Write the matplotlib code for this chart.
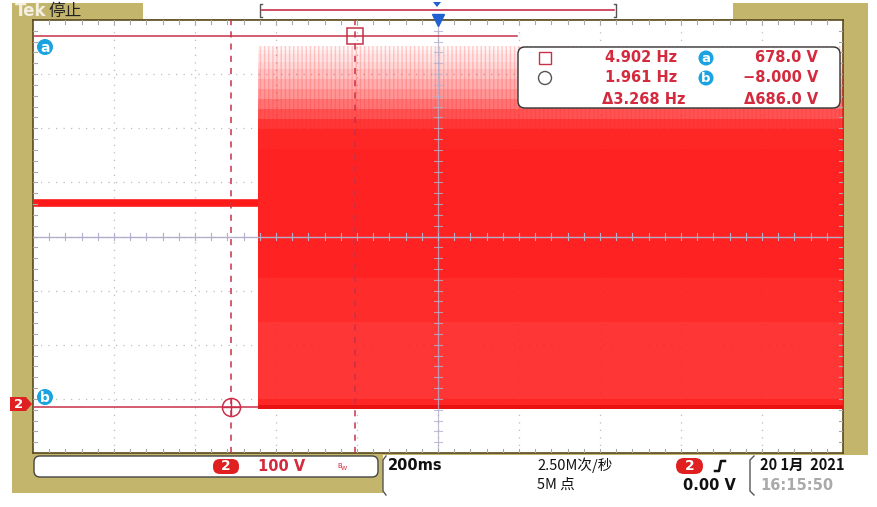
import numpy as np
import matplotlib
matplotlib.use("Agg")
import matplotlib.pyplot as plt
from matplotlib.patches import FancyBboxPatch, Rectangle, Polygon, Circle

plt.rcParams['font.family'] = ['Noto Sans CJK SC', 'DejaVu Sans']

# -----------------------
# Scope settings / readings
# -----------------------
time_per_div = 0.2          # s  (200ms)
volt_per_div = 100.0        # V
n_xdiv, n_ydiv = 10, 8
ground_v = -92.6            # bottom of screen in volts

# signal: flat DC level then dense switching waveform
t_start = -1.0
t_step = -0.444
t_end = 1.0
dc_level = 370.0
# intensity profile of the dense waveform (volts -> display intensity)
band_levels = [-11, -4, 8, 150, 230, 469, 506, 525, 543, 562, 580, 598, 617, 630, 644, 652, 660]
band_alpha = [1.0, 0.95, 0.88, 0.92, 0.97, 0.95, 0.88, 0.75, 0.6, 0.46, 0.35, 0.25, 0.17, 0.11, 0.07, 0.04]

# cursors
cursor_t = [-0.204, -0.510]
cursor_v = [678.0, -8.0]

OLIVE = "#C4B56C"
RED = "#FF1A1A"
CUR = "#C8304A"
TXT = "#D42A3E"
CYAN = "#1AA3E0"

W, H = 877, 507
fig = plt.figure(figsize=(W / 100, H / 100), dpi=100)

# background chrome in pixel coords
bg = fig.add_axes([0, 0, 1, 1])
bg.set_xlim(0, W)
bg.set_ylim(H, 0)
bg.axis("off")
bg.add_patch(Rectangle((12, 3), 856, 490, color=OLIVE, lw=0))
bg.add_patch(Rectangle((143, 0), 590, 19, color="white", lw=0))
bg.add_patch(Rectangle((383, 455), 485, 40, color="white", lw=0))

# top record view
bg.plot([262, 614], [10, 10], color=CUR, lw=1.2)
bg.plot([262, 260, 260, 262], [4, 4, 17, 17], color="#555555", lw=1)
bg.plot([614, 616, 616, 614], [4, 4, 17, 17], color="#555555", lw=1)
bg.add_patch(Polygon([[433, 2], [441, 2], [437, 7]], color="#2060D0", lw=0))
bg.text(15, 11, "Tek", color="#F4F0E0", fontsize=12, fontweight="bold", va="center", family="DejaVu Sans")
bg.text(48, 11, "停止", color="#222222", fontsize=12, va="center")

# -----------------------
# Graticule / waveform axes
# -----------------------
px0, py0, pw, ph = 33, 20, 810, 433
ax = fig.add_axes([px0 / W, 1 - (py0 + ph) / H, pw / W, ph / H])
x_lo = -n_xdiv / 2 * time_per_div
x_hi = n_xdiv / 2 * time_per_div
y_lo = ground_v
y_hi = ground_v + n_ydiv * volt_per_div
ax.set_xlim(x_lo, x_hi)
ax.set_ylim(y_lo, y_hi)
ax.set_facecolor("white")
ax.set_xticks([])
ax.set_yticks([])
for s in ax.spines.values():
    s.set_color("#5A4A20")
    s.set_linewidth(1.2)

grid_kw = dict(color="#BDBDBD", lw=0.9, ls=(0, (1, 5)), zorder=1)
for i in range(1, n_xdiv):
    ax.axvline(x_lo + i * time_per_div, **grid_kw)
for j in range(1, n_ydiv):
    ax.axhline(y_lo + j * volt_per_div, **grid_kw)

xc = 0.0
yc = y_lo + n_ydiv / 2 * volt_per_div
axis_col = "#B4B0CC"
ax.axhline(yc, color=axis_col, lw=1.0, zorder=4)
ax.axvline(xc, color=axis_col, lw=0.9, alpha=0.8, zorder=4)
dx_tick = 0.045 * time_per_div
dy_tick = 0.07 * volt_per_div
for k in range(1, n_xdiv * 5):
    xt = x_lo + k * time_per_div / 5
    ax.plot([xt, xt], [yc - dy_tick, yc + dy_tick], color=axis_col, lw=0.8, zorder=4)
    ax.plot([xt, xt], [y_lo, y_lo + dy_tick], color="#A8A8A8", lw=0.8, zorder=4)
    ax.plot([xt, xt], [y_hi - dy_tick, y_hi], color="#A8A8A8", lw=0.8, zorder=4)
for k in range(1, n_ydiv * 5):
    yt = y_lo + k * volt_per_div / 5
    ax.plot([xc - dx_tick, xc + dx_tick], [yt, yt], color=axis_col, lw=0.8, alpha=0.8, zorder=4)
    ax.plot([x_lo, x_lo + dx_tick], [yt, yt], color="#A8A8A8", lw=0.8, zorder=4)
    ax.plot([x_hi - dx_tick, x_hi], [yt, yt], color="#A8A8A8", lw=0.8, zorder=4)

# DC level before the burst
ax.plot([t_start, t_step], [dc_level, dc_level], color=RED, lw=5.5, zorder=3,
        solid_capstyle="butt")

# dense waveform drawn as intensity bands
tt = [t_step, t_end]
for lo, hi, a in zip(band_levels[:-1], band_levels[1:], band_alpha):
    ax.fill_between(tt, lo, hi, color=RED, alpha=a, lw=0, zorder=3)
# faint vertical striations in the fading top part
ax.fill_between(tt, band_levels[5], band_levels[-1], facecolor="none",
                edgecolor=(1, 0.15, 0.15, 0.22), hatch="||||", lw=0, zorder=3)
ax.fill_between(tt, band_levels[0], band_levels[1], color="#E81212", lw=0, zorder=3)

# cursors
for t in cursor_t:
    ax.axvline(t, color=CUR, lw=1.1, ls=(0, (4, 4)), zorder=5)
t_box = x_lo + (517 - px0) / pw * (x_hi - x_lo)
ax.plot([x_lo, t_box], [cursor_v[0]] * 2, color=CUR, lw=1.1, zorder=5)
ax.plot([x_lo, t_step], [cursor_v[1]] * 2, color=CUR, lw=1.1, zorder=5)
ax.plot([cursor_t[0]], [cursor_v[0]], marker="s", ms=11, mfc="none", mec=CUR, mew=1.1, zorder=6)
ax.plot([cursor_t[1]], [cursor_v[1]], marker="o", ms=13, mfc="none", mec=CUR, mew=1.1, zorder=6)
ax.plot([cursor_t[1]], [cursor_v[1]], marker="+", ms=13, mec=CUR, mew=1.0, zorder=6)

# trigger position marker
ax.plot([0], [y_hi], marker="v", ms=8, color="#2060D0", clip_on=False, zorder=7)

# -----------------------
# overlays in pixel coords
# -----------------------
ov = fig.add_axes([0, 0, 1, 1], facecolor="none")
ov.set_xlim(0, W)
ov.set_ylim(H, 0)
ov.axis("off")

# cursor labels a / b
for (cx, cy, lab) in [(45, 47, "a"), (45, 397, "b")]:
    ov.add_patch(Circle((cx, cy), 8, color=CYAN, lw=0))
    ov.text(cx, cy + 0.5, lab, color="white", fontsize=10, fontweight="bold",
            ha="center", va="center", family="DejaVu Sans")

# channel 2 ground marker
ov.add_patch(Polygon([[10, 397], [26, 397], [32, 404], [26, 411], [10, 411]], color="#E02020", lw=0))
ov.text(19, 404, "2", color="white", fontsize=9.5, fontweight="bold", ha="center", va="center",
        family="DejaVu Sans")

# cursor readout box
ov.add_patch(FancyBboxPatch((518, 47), 322, 61, boxstyle="round,pad=0,rounding_size=7",
                            fc="white", ec="#333333", lw=1.0))
f_a = 1 / abs(cursor_t[0])
f_b = 1 / abs(cursor_t[1])
f_d = 1 / abs(cursor_t[0] - cursor_t[1])
fkw = dict(color=TXT, fontsize=10.5, fontweight="bold", va="center", family="DejaVu Sans")
ov.add_patch(Rectangle((539, 52), 12, 12, fc="none", ec=CUR, lw=1.0))
ov.add_patch(Circle((545, 78), 6.5, fc="none", ec="#555555", lw=1.0))
ov.text(677, 58, f"{f_a:.3f} Hz", ha="right", **fkw)
ov.text(677, 78, f"{f_b:.3f} Hz", ha="right", **fkw)
ov.text(686, 99, f"\u0394{f_d:.3f} Hz", ha="right", **fkw)
for (cy, lab) in [(58, "a"), (78, "b")]:
    ov.add_patch(Circle((706, cy), 7.5, color=CYAN, lw=0))
    ov.text(706, cy + 0.5, lab, color="white", fontsize=9.5, fontweight="bold",
            ha="center", va="center", family="DejaVu Sans")
ov.text(818, 58, f"{cursor_v[0]:.1f} V", ha="right", **fkw)
ov.text(818, 78, f"\u2212{abs(cursor_v[1]):.3f} V", ha="right", **fkw)
ov.text(818, 99, f"\u0394{cursor_v[0] - cursor_v[1]:.1f} V", ha="right", **fkw)

# bottom status bar
ov.add_patch(FancyBboxPatch((34, 456), 344, 21, boxstyle="round,pad=0,rounding_size=6",
                            fc="white", ec="#444444", lw=1.0))
ov.add_patch(FancyBboxPatch((213, 459), 26, 15, boxstyle="round,pad=0,rounding_size=7",
                            fc="#E02020", ec="none"))
ov.text(226, 466.5, "2", color="white", fontsize=10, fontweight="bold", ha="center", va="center",
        family="DejaVu Sans")
ov.text(258, 466.5, "100 V", color=TXT, fontsize=10.5, fontweight="bold", va="center",
        family="DejaVu Sans")
ov.text(337, 466, "B", color=TXT, fontsize=5, va="center", family="DejaVu Sans")
ov.text(341, 469, "W", color=TXT, fontsize=4.5, va="center", family="DejaVu Sans")

ov.plot([386, 383, 383, 386], [456, 460, 491, 495], color="#555555", lw=1.0)
ov.text(388, 465, "200ms", color="#111111", fontsize=10.5, fontweight="bold", va="center",
        family="DejaVu Sans")
ov.text(537, 465, "2.50M次/秒", color="#111111", fontsize=10.5, va="center")
ov.text(537, 485, "5M 点", color="#111111", fontsize=10.5, va="center")
ov.add_patch(FancyBboxPatch((676, 458), 27, 16, boxstyle="round,pad=0,rounding_size=8",
                            fc="#E02020", ec="none"))
ov.text(689.5, 466, "2", color="white", fontsize=10, fontweight="bold", ha="center", va="center",
        family="DejaVu Sans")
ov.plot([715, 719, 721, 725], [471, 471, 461, 461], color="#111111", lw=1.8)
ov.text(736, 485, "0.00 V", color="#111111", fontsize=10.5, fontweight="bold", va="center",
        ha="right", family="DejaVu Sans")
ov.plot([754, 750, 750, 754], [456, 460, 491, 495], color="#555555", lw=1.0)
ov.text(760, 465, "20 1月  2021", color="#111111", fontsize=10.5, fontweight="bold", va="center")
ov.text(760, 486, "16:15:50", color="#AAAAAA", fontsize=10.5, fontweight="bold", va="center",
        family="DejaVu Sans")

fig.savefig("out.png", dpi=100)
